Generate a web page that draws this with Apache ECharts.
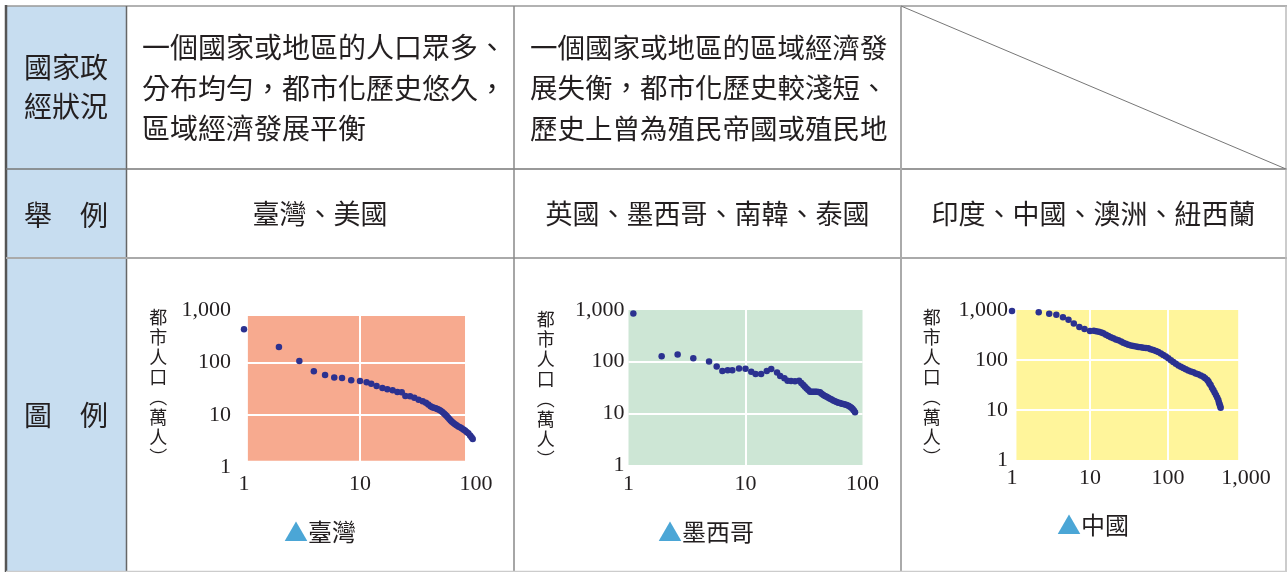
<!DOCTYPE html>
<html><head><meta charset="utf-8">
<script src="https://cdn.jsdelivr.net/npm/echarts@6/dist/echarts.min.js"></script>
<style>html,body{margin:0;padding:0;background:#fff}#c{width:1287px;height:572px}</style>
</head><body><div id="c"></div>
<script>
// ---------- data ----------
const tickValues = [1, 10, 100, 1000];
const tickLabels = ['1', '10', '100', '1,000'];

const taiwanRank = [1,2,3,4,5,6,7,8.4,10,11.4,12.5,13.9,15.6,17.2,19.1,21,22.9,24.6,27,29.4,32,34.7,37,38.8,40.6,42,43.4,44.9,46.4,48,49.6,51.3,53,54.4,55.8,57.3,58.9,60.4,62,63.9,65.9,68,70.4,72.8,75.2,77.8,80.4,83,85.9,89,91.5,93.7];
const taiwanPop  = [428,197,107,68,58,52,51,46,44.5,42,39.5,36,32.7,31,29.6,27.5,27.1,23.1,22.8,21.4,19.6,18.3,17.2,16,14.7,14.2,13.8,13.5,13.1,12.6,12.1,11.5,10.8,10.2,9.6,9,8.4,7.9,7.5,7.1,6.7,6.4,6.1,5.85,5.6,5.35,5.1,4.8,4.5,4.1,3.8,3.5];

const mexicoRank = [1.1,1.92,2.63,3.58,4.88,5.67,6.34,7.04,7.71,8.8,10,11.2,12.2,13.6,15.2,16.6,18.6,19.8,21.5,22.9,24.5,26.5,28.7,30,31.2,32.2,33.3,34.4,35.6,36.8,38,39.3,40.6,42,43.3,44.8,46.3,47.8,49.4,51,52.8,54.5,56.3,58.2,60.2,62.2,64.2,66.4,68.6,71,73.3,75.8,78.2,80.4,82.4,84.4,86.3];
const mexicoPop  = [860,127,138,117,101,81,66,68,68,74,73,64,57.6,57.6,66,72,62,53,47.5,42.7,42.2,42,42.5,38.5,35.3,32.8,30.4,28.2,26.2,26.2,26.2,26.2,26.2,26,25.5,24,22.6,21.7,20.9,20,19.2,18.5,17.8,17.1,16.5,16.1,15.8,15.4,15.1,14.8,14.5,14,13.4,12.8,12.1,11.3,10.5];

const chinaRank = [1,2.2,3,3.7,4.5,5.3,6.2,7.3,8.5,10,11.2,12,13,14,14.8,16,17.2,18.5,19.9,21.5,23.1,25,26.7,28.8,31,33.5,36,39,41.7,45,48.3,52,56,60,64.8,70,75.1,81,87,94,101,109,117,126,136,146,157,169,182,196,211,227,244,263,284,300,319,330,340,352,366,381,396,412,427,442,450,458,466,473];
const chinaPop  = [950,900,845,805,715,640,540,457,417,380,385,378,369,355,341,320,302,285,271,258,247,234,222,212,203,196,190,186,182,179,176,173,171,165,158,151,145,135,126,117,108,99,91,84,78,73,69,65,62,59,57,54,52,49,46,43,40,37,34,31.6,28,25,22.5,20,17.8,15.8,14.2,13,12,11.1];

const captions = ['臺灣', '墨西哥', '中國'];
const yAxisTitle = '都\n市\n人\n口\n︵\n萬\n人\n︶';

// ---------- styles ----------
const dotColor = '#2b3190';
const bgColors = ['#f7aa8f', '#cde6d5', '#fff59b'];
const txt = '#231f20';
const cjk = '"Noto Sans CJK TC", "Noto Sans CJK SC", sans-serif';
const serif = '"Liberation Serif", "DejaVu Serif", serif';

function fmt(v) {
  const i = tickValues.findIndex(t => Math.abs(t - v) < 1e-6 * t);
  return i >= 0 ? tickLabels[i] : '';
}
const zip = (a, b) => a.map((x, i) => [x, b[i]]);

const grids = [
  { left: 244, top: 310, width: 232, height: 157.7 },
  { left: 628.5, top: 310, width: 234, height: 155 },
  { left: 1012, top: 310, width: 234, height: 150 }
];
const xMax = [100, 100, 1000];
const xMargins = [6, 8, 7];
const yMargins = [13, 4, 4];
const bgAreas = [
  [[1.08, 770], [80.4, 1.36]],
  [[1, 1000], [100, 1]],
  [[1.14, 1000], [794, 1]]
];
const seriesData = [zip(taiwanRank, taiwanPop), zip(mexicoRank, mexicoPop), zip(chinaRank, chinaPop)];

const xAxes = [], yAxes = [], series = [];
for (let i = 0; i < 3; i++) {
  xAxes.push({
    type: 'log', logBase: 10, min: 1, max: xMax[i], gridIndex: i, z: 2,
    axisLine: { show: false }, axisTick: { show: false },
    splitLine: { show: true, showMinLine: false, showMaxLine: false, lineStyle: { color: '#ffffff', width: 2 } },
    axisLabel: { fontFamily: serif, fontSize: 22, color: txt, margin: xMargins[i], formatter: fmt }
  });
  yAxes.push({
    type: 'log', logBase: 10, min: 1, max: 1000, gridIndex: i, z: 2,
    axisLine: { show: false }, axisTick: { show: false },
    splitLine: { show: true, showMinLine: false, showMaxLine: false, lineStyle: { color: '#ffffff', width: 2 } },
    axisLabel: { fontFamily: serif, fontSize: 22, color: txt, margin: yMargins[i], formatter: fmt }
  });
  series.push({
    type: 'scatter', xAxisIndex: i, yAxisIndex: i, z: 1, data: [], silent: true,
    markArea: { silent: true, z: 1, itemStyle: { color: bgColors[i], borderWidth: 0 },
      data: [[{ coord: bgAreas[i][0] }, { coord: bgAreas[i][1] }]] }
  });
  series.push({
    type: 'scatter', xAxisIndex: i, yAxisIndex: i, z: 3, symbolSize: 6.5,
    itemStyle: { color: dotColor, opacity: 1 }, data: seriesData[i]
  });
}

// ---------- table graphics ----------
const graphic = [];
function line(x1, y1, x2, y2, color, w) {
  graphic.push({ type: 'line', shape: { x1, y1, x2, y2 }, style: { stroke: color, lineWidth: w }, z: 10 });
}
function text(x, y, s, size, align, extra) {
  graphic.push(Object.assign({ type: 'text', x, y, z: 11,
    style: { text: s, fontSize: size, fontFamily: cjk, fill: txt, align: align || 'center', verticalAlign: 'middle' } }, extra || {}));
}
graphic.push({ type: 'rect', shape: { x: 7, y: 6, width: 119.5, height: 566 }, style: { fill: '#c7ddf0' }, z: 5 });

line(5, 6, 1287, 6, '#999999', 1.5);
line(6, 5, 6, 572, '#555555', 2.5);
line(126.5, 6, 126.5, 572, '#666666', 1.5);
line(6, 169, 1287, 169, '#777777', 1.5);
line(6, 258, 1287, 258, '#aaaaaa', 2);
line(514, 6, 514, 572, '#888888', 1.5);
line(901, 6, 901, 572, '#aaaaaa', 2);
line(1286, 6, 1286, 572, '#bbbbbb', 1.5);
line(6, 571.5, 1287, 571.5, '#cccccc', 1.5);
line(901, 6, 1286, 169, '#777777', 1);

// header column
text(66, 67, '國家政', 28);
text(66, 106, '經狀況', 28);
text(66, 215, '舉　例', 28);
text(66, 415, '圖　例', 28);

// row 1
graphic.push({ type: 'text', x: 142, y: 88, z: 11, style: {
  text: '一個國家或地區的人口眾多、\n分布均勻，都市化歷史悠久，\n區域經濟發展平衡',
  fontSize: 28, lineHeight: 40.5, fontFamily: cjk, fill: txt, align: 'left', verticalAlign: 'middle' } });
graphic.push({ type: 'text', x: 530, y: 88, z: 11, style: {
  text: '一個國家或地區的區域經濟發\n展失衡，都市化歷史較淺短、\n歷史上曾為殖民帝國或殖民地',
  fontSize: 27.5, lineHeight: 40.5, fontFamily: cjk, fill: txt, align: 'left', verticalAlign: 'middle' } });

// row 2
text(320, 213.5, '臺灣、美國', 27);
text(707.5, 213.5, '英國、墨西哥、南韓、泰國', 27);
text(1093.5, 213.5, '印度、中國、澳洲、紐西蘭', 27);

// axis titles
[[158.3, 387.5], [545.7, 389], [931.7, 386.7]].forEach(p => {
  graphic.push({ type: 'text', x: p[0], y: p[1], z: 11, style: {
    text: yAxisTitle, fontSize: 18, lineHeight: 20, fontFamily: cjk, fill: txt, align: 'center', verticalAlign: 'middle' } });
});

// captions
[[320, 532], [706, 531.5], [1093, 525]].forEach((p, i) => {
  graphic.push({ type: 'text', x: p[0], y: p[1], z: 11, style: {
    text: '{t|▲}{n|' + captions[i] + '}', align: 'center', verticalAlign: 'middle',
    rich: { t: { fill: '#4ba6d6', fontSize: 24, fontFamily: cjk }, n: { fill: txt, fontSize: 24, fontFamily: cjk } } } });
});

const chart = echarts.init(document.getElementById('c'), null, { renderer: 'canvas' });
chart.setOption({
  animation: false,
  backgroundColor: '#ffffff',
  grid: grids,
  xAxis: xAxes,
  yAxis: yAxes,
  series: series,
  graphic: graphic
});
</script>
</body></html>
